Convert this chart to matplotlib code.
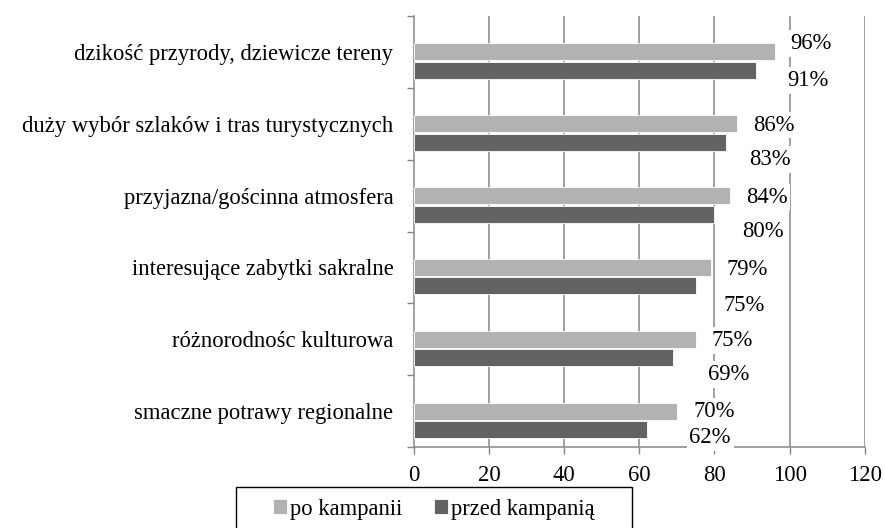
import matplotlib
matplotlib.use("Agg")
import matplotlib.pyplot as plt
from matplotlib.patches import Rectangle
import numpy as np

categories = [
    "dzikość przyrody, dziewicze tereny",
    "duży wybór szlaków i tras turystycznych",
    "przyjazna/gościnna atmosfera",
    "interesujące zabytki sakralne",
    "różnorodnośc kulturowa",
    "smaczne potrawy regionalne",
]
po_kampanii = [96, 86, 84, 79, 75, 70]
przed_kampania = [91, 83, 80, 75, 69, 62]
series_names = ["po kampanii", "przed kampanią"]
xticks = [0, 20, 40, 60, 80, 100, 120]

plt.rcParams['font.family'] = ['Liberation Serif', 'DejaVu Serif']
FS = 16.3
c_light = "#b2b2b2"
c_dark = "#636363"
grid_c = "#868686"

fig = plt.figure(figsize=(8.85, 5.28), dpi=100)
ax = fig.add_axes([0.468, 0.1534, 0.509, 0.8163])

n = len(categories)
y = np.arange(n)
h = 0.236
ax.barh(y, po_kampanii, height=h, color=c_light, edgecolor="white", linewidth=0.6, zorder=2,
        label=series_names[0])
ax.barh(y + 0.257, przed_kampania, height=h, color=c_dark, edgecolor="white", linewidth=0.6, zorder=2,
        label=series_names[1])

ax.set_xlim(0, 120)
ax.set_ylim(n - 0.5, -0.5)
ax.set_xticks(xticks)
ax.set_xticklabels([str(t) for t in xticks], fontsize=FS)
ax.set_yticks(y)
ax.set_yticklabels(categories, fontsize=FS)
ax.tick_params(axis='y', length=0, pad=15)
ax.set_yticks(np.arange(n + 1) - 0.5, minor=True)
ax.tick_params(axis='y', which='minor', length=5, color=grid_c, width=1)
ax.tick_params(axis='x', length=5, color=grid_c, width=1, direction='out', pad=8)
for x in xticks[1:]:
    ax.axvline(x, color=grid_c, lw=1.1, zorder=1)
for s in ['top', 'right']:
    ax.spines[s].set_visible(False)
for s in ['left', 'bottom']:
    ax.spines[s].set_color(grid_c)
    ax.spines[s].set_linewidth(1.1)
    ax.spines[s].set_zorder(1)

light_dy = [-0.12, 0.02, 0.02, 0.03, 0.02, 0.0]
dark_dy = [0.40, 0.50, 0.50, 0.53, 0.49, 0.37]
bb = dict(boxstyle="square,pad=0.12", fc="white", ec="none")
for i in range(n):
    ax.text(po_kampanii[i] + 4.3, i + light_dy[i], f"{po_kampanii[i]}%", fontsize=FS,
            ha='left', va='center', zorder=5, bbox=bb, clip_on=False)
    ax.text(po_kampanii[i] + 3.3, i + dark_dy[i], f"{przed_kampania[i]}%", fontsize=FS,
            ha='left', va='center', zorder=5, bbox=bb, clip_on=False)

# legend (frame drawn separately so it can run off the bottom edge like the reference)
W, H = 885, 528
fig.patches.append(Rectangle((236 / W, -0.05), (632 - 236) / W, (1 - 487 / H) + 0.05,
                             transform=fig.transFigure, fill=False, ec="black", lw=1.0))
leg = fig.legend(loc='center', bbox_to_anchor=(434 / W, 1 - 509 / H), ncol=2,
                 fontsize=FS, frameon=False, handlelength=0.6, handleheight=0.6,
                 handletextpad=0.15, columnspacing=1.4, borderpad=0, borderaxespad=0)

fig.savefig("out.png", dpi=100)
